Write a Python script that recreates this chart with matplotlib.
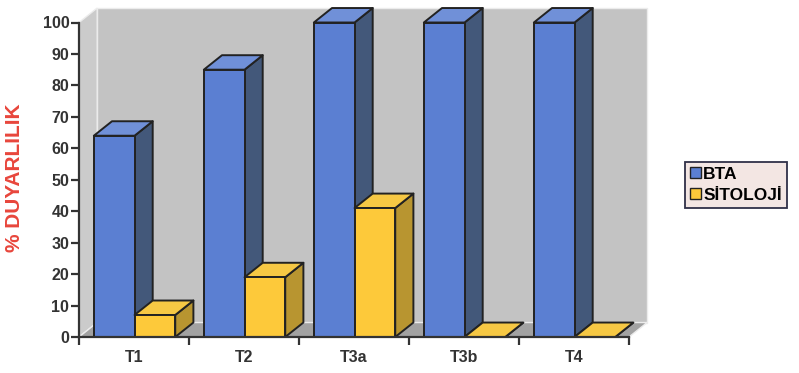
import matplotlib.pyplot as plt
from matplotlib.patches import Polygon, Rectangle

categories = ['T1', 'T2', 'T3a', 'T3b', 'T4']
bta = [64, 85, 100, 100, 100]
sitoloji = [7, 19, 41, 0, 0]
series_names = ['BTA', 'SİTOLOJİ']

plt.rcParams['font.family'] = ['Liberation Sans', 'DejaVu Sans']

fig = plt.figure(figsize=(7.99, 3.73), dpi=100)
ax = fig.add_axes([79 / 799, 36 / 373, 550 / 799, 314.5 / 373])
ax.set_xlim(0, len(categories))
ax.set_ylim(0, 100)

# depth of the fake 3d effect, in data units
dx, dy = 0.165, 4.6
bar_w = 0.37
off = 0.135


def box(x0, h, front, side, top):
    kw = dict(edgecolor='#222222', linewidth=1.4, clip_on=False, joinstyle='round')
    ax.add_patch(Polygon([(x0 + bar_w, 0), (x0 + bar_w + dx, dy), (x0 + bar_w + dx, h + dy), (x0 + bar_w, h)],
                         facecolor=side, **kw))
    ax.add_patch(Polygon([(x0, h), (x0 + bar_w, h), (x0 + bar_w + dx, h + dy), (x0 + dx, h + dy)],
                         facecolor=top, **kw))
    if h > 0:
        ax.add_patch(Rectangle((x0, 0), bar_w, h, facecolor=front, **kw))


n = len(categories)
wall = dict(edgecolor='#ececec', linewidth=1, clip_on=False, zorder=0)
ax.add_patch(Polygon([(dx, dy), (n + dx, dy), (n + dx, 100 + dy), (dx, 100 + dy)], facecolor='#c3c3c3', **wall))
ax.add_patch(Polygon([(0, 0), (dx, dy), (dx, 100 + dy), (0, 100)], facecolor='#cbcbcb', **wall))
ax.add_patch(Polygon([(0, 0), (n, 0), (n + dx, dy), (dx, dy)], facecolor='#a2a2a2', **wall))

for i in range(n):
    x0 = i + off
    box(x0, bta[i], '#5b7fd2', '#43587a', '#7090d8')
    box(x0 + bar_w, sitoloji[i], '#fdc93a', '#b89530', '#f6c844')

ax.set_facecolor('none')
for s in ['top', 'right']:
    ax.spines[s].set_visible(False)
for s in ['left', 'bottom']:
    ax.spines[s].set_color('#333333')
    ax.spines[s].set_linewidth(1.6)

ax.set_yticks(range(0, 101, 10))
ax.set_yticklabels([str(v) for v in range(0, 101, 10)], fontsize=11.5, fontweight='bold', color='#333333')
ax.tick_params(axis='y', length=6, width=1.6, color='#333333', pad=1)
ax.set_xticks(range(n + 1))
ax.set_xticklabels([])
ax.tick_params(axis='x', which='major', length=6, width=1.6, color='#333333', direction='out')
ax.set_xticks([i + 0.5 for i in range(n)], minor=True)
ax.set_xticklabels(categories, minor=True, fontsize=11.5, fontweight='bold', color='#333333')
ax.tick_params(axis='x', which='minor', length=0, pad=9)

fig.text(15 / 799, 1 - 178 / 373, '% DUYARLILIK', rotation=90, ha='center', va='center',
         fontsize=15, fontweight='bold', color='#e8463c')

handles = [Rectangle((0, 0), 1, 1, facecolor='#5b7fd2', edgecolor='#222222'),
           Rectangle((0, 0), 1, 1, facecolor='#fdc93a', edgecolor='#222222')]
leg = fig.legend(handles, series_names, loc='center', bbox_to_anchor=(736 / 799, 1 - 185 / 373),
                 fancybox=False, framealpha=1, facecolor='#f3e6e3', edgecolor='#303048',
                 prop={'weight': 'bold', 'size': 12.5}, handlelength=0.6, handleheight=0.6,
                 handletextpad=0.15, borderpad=0.3, labelspacing=0.35, borderaxespad=0)
leg.get_frame().set_linewidth(1.3)

fig.savefig('out.png', dpi=100)
